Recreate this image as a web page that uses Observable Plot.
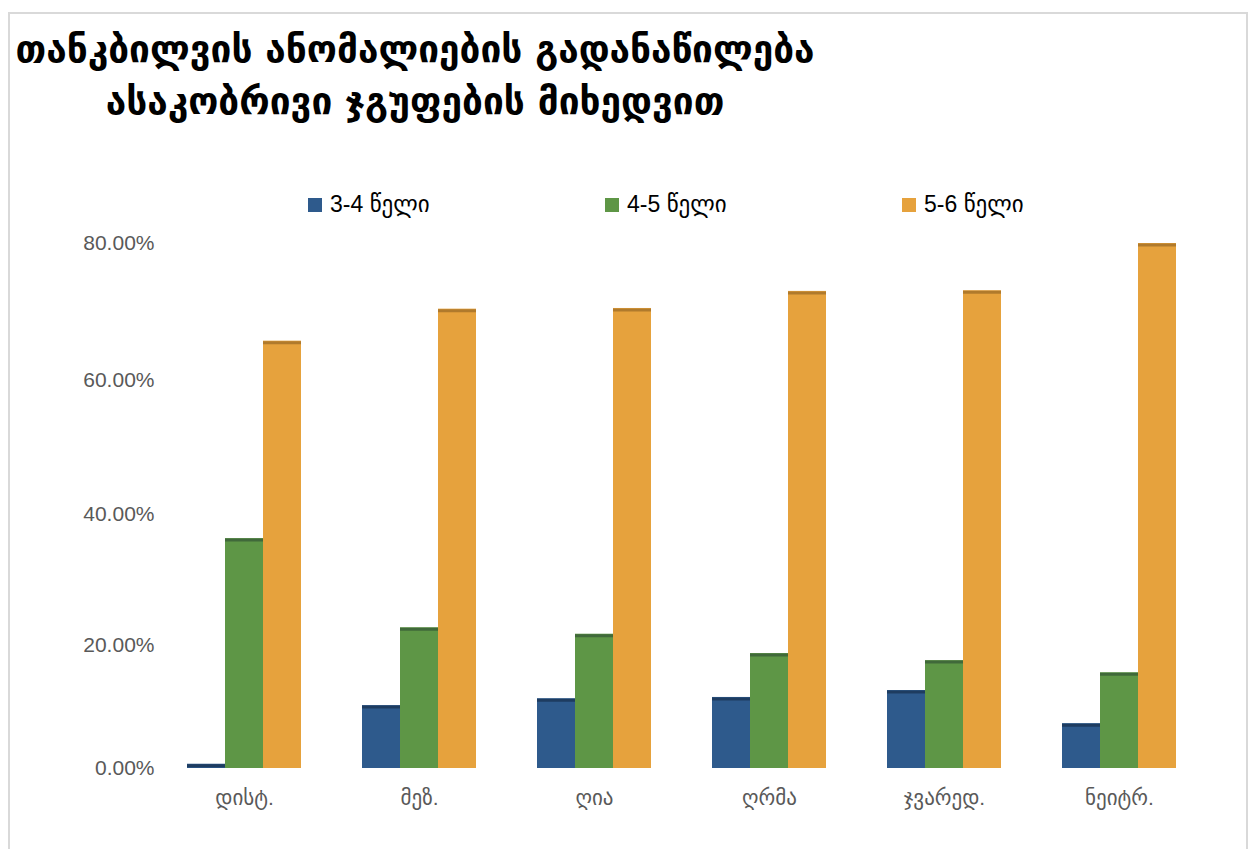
<!DOCTYPE html>
<html><head><meta charset="utf-8">
<script src="https://cdn.jsdelivr.net/npm/d3@7"></script>
<script src="https://cdn.jsdelivr.net/npm/@observablehq/plot@0.6"></script>
<style>
body{margin:0;background:#fff;font-family:"Liberation Sans","DejaVu Sans",sans-serif;}
#frame{position:absolute;left:8px;top:12px;width:1240px;height:845px;border:2px solid #d9d9d9;box-sizing:border-box;}
#title{position:absolute;left:10px;top:24px;width:810px;text-align:center;font-family:"DejaVu Sans",sans-serif;font-size:37px;font-weight:bold;line-height:52px;color:#000;}
.leg{position:absolute;top:191px;font-size:23px;color:#000;display:flex;align-items:center;white-space:nowrap;}
.sw{display:inline-block;width:14px;height:14px;margin-right:8px;}
#chart{position:absolute;left:0;top:230px;}
</style></head>
<body>
<div id="frame"></div>
<div id="title">თანკბილვის ანომალიების გადანაწილება<br>ასაკობრივი ჯგუფების მიხედვით</div>
<div id="legend"></div>
<div id="chart"></div>
<script>
const categories = ["დისტ.","მეზ.","ღია","ღრმა","ჯვარედ.","ნეიტრ."];
const seriesNames = ["3-4 წელი","4-5 წელი","5-6 წელი"];
const age34 = [0.008,0.105,0.116,0.118,0.129,0.076];
const age45 = [0.363,0.227,0.217,0.187,0.176,0.157];
const age56 = [0.657,0.704,0.705,0.730,0.731,0.800];
const colors = ["#2E5A8C","#5E9646","#E6A23D"];
const edgeColors = ["#1E3C60","#40693A","#B07A2C"];
const yTicks = [0,0.2,0.4,0.6,0.8];
const legendX = [308,605,902];

const seriesValues = [age34, age45, age56];
const data = [];
categories.forEach((c,i)=>seriesNames.forEach((s,j)=>data.push({category:c, series:s, value:seriesValues[j][i]})));

const leg = document.getElementById("legend");
seriesNames.forEach((s,j)=>{
  const d = document.createElement("div");
  d.className="leg"; d.style.left=legendX[j]+"px";
  d.innerHTML = `<span class="sw" style="background:${colors[j]}"></span><span>${s}</span>`;
  leg.appendChild(d);
});

const chart = Plot.plot({
  width:1256, height:598,
  marginTop:13, marginBottom:60, marginLeft:155, marginRight:48,
  fx:{domain:categories, paddingInner:0.35, paddingOuter:0.175, label:null, axis:"bottom", tickSize:0, tickPadding:22},
  x:{domain:seriesNames, axis:null, padding:0},
  y:{type:"pow", exponent:1.045, domain:[0,0.8], ticks:yTicks, tickFormat:d3.format(".2%"), tickSize:0, tickPadding:33, label:null},
  color:{domain:seriesNames, range:colors},
  style:{fontSize:"21px", color:"#595959", fontFamily:"'Liberation Sans','DejaVu Sans',sans-serif", background:"transparent"},
  marks:[
    Plot.barY(data,{fx:"category", x:"series", y:"value", fill:"series"}),
    ...seriesNames.map((s,j)=>Plot.tickY(data.filter(d=>d.series===s),{fx:"category", x:"series", y:"value", stroke:edgeColors[j], strokeWidth:3, dy:1.5}))
  ]
});
document.getElementById("chart").appendChild(chart);
</script>
</body></html>
